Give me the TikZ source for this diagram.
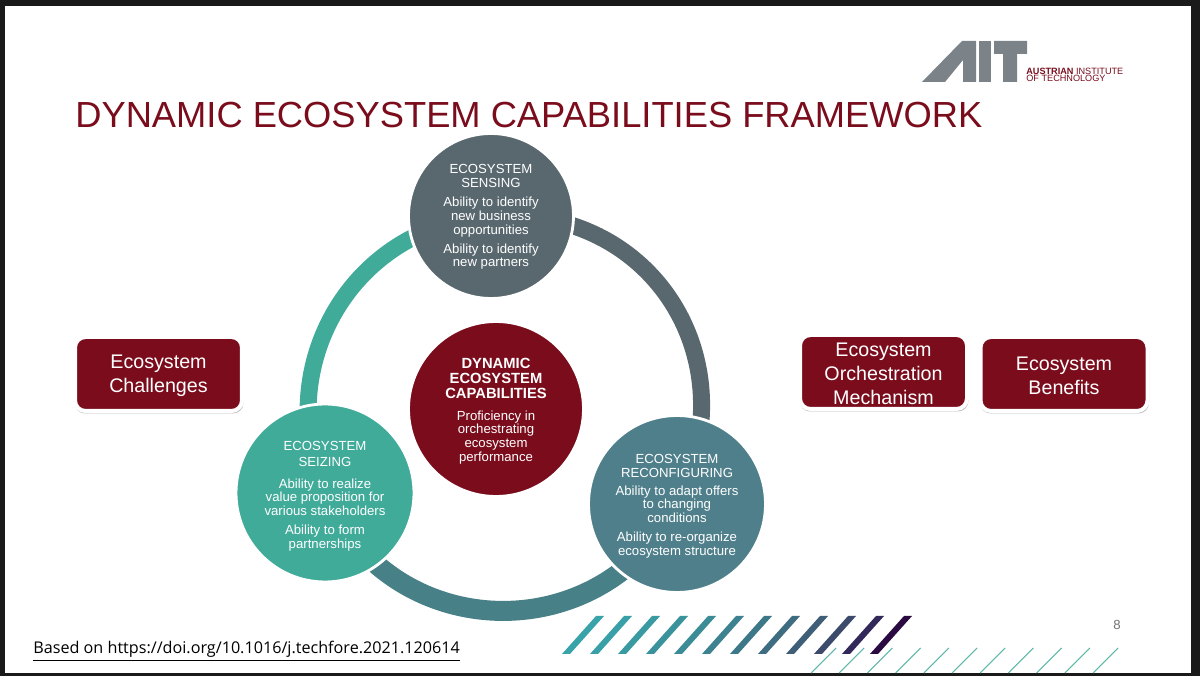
\documentclass[tikz,border=0pt]{standalone}
\usepackage{fontspec}
\setmainfont{Liberation Sans}
\newfontfamily\footfont{Open Sans}
\usetikzlibrary{shapes.geometric,backgrounds,shadows,calc}
\definecolor{wine}{HTML}{7A0C1C}
\definecolor{logogray}{HTML}{7B8288}
\definecolor{slate}{HTML}{59686F}
\definecolor{petrol}{HTML}{4F7F8B}
\definecolor{mint}{HTML}{41AB9A}
\definecolor{bottomarc}{HTML}{478086}
\definecolor{framebar}{HTML}{1A1A1A}
\def\lift#1{\rule{0pt}{#1}}
\begin{document}
\begin{tikzpicture}
[x=0.02cm,y=0.02cm,
bubble/.style={draw=white,line width=1.6pt,circle,inner sep=0pt,text=white,align=center,font=\fontsize{7.5}{7.8}\selectfont},
chip/.style={draw=white,line width=2.27pt,rounded corners=6pt,fill=wine,text=white,align=center,minimum width=3.34cm,minimum height=1.48cm,inner sep=0pt,font=\fontsize{11.2}{13.6}\selectfont,drop shadow={shadow xshift=0.1mm,shadow yshift=-0.4mm,shadow scale=1.012,fill=black!55}},
ringarc/.style={line width=0.34cm},
]
\useasboundingbox (0,0) rectangle (1200,676);

%Logo
\fill[logogray] (922,594) -- (962,635) -- (976,635) -- (976,594) -- (963,594) -- (963,616) -- (945,594) -- cycle;
\fill[logogray] (979,594) rectangle (991,635);
\fill[logogray] (994,635) -- (1027,635) -- (1027,622) -- (1017,622) -- (1017,594) -- (1003,594) -- (1003,622) -- (994,622) -- cycle;
\node (logotop) at (1026,605)[anchor=west,inner sep=0pt,text=wine,font=\fontsize{5.2}{5.2}\selectfont] {\textbf{AUSTRIAN} INSTITUTE};
\node (logobottom) at (1026,598)[anchor=west,inner sep=0pt,text=wine,font=\fontsize{5.2}{5.2}\selectfont] {OF TECHNOLOGY};

%Title
\node (title) at (75,548)[anchor=base west,inner sep=0pt,text=wine,font=\fontsize{20.66}{24}\selectfont] {DYNAMIC ECOSYSTEM CAPABILITIES FRAMEWORK};

%Circles
\node (sensing) at (491,460)[bubble,fill=slate,minimum size=3.3cm] {\lift{6.5pt}ECOSYSTEM\\SENSING\\[3pt]Ability to identify\\new business\\opportunities\\[3pt]Ability to identify\\new partners};
\node (capability) at (496,267)[bubble,fill=wine,minimum size=3.5cm] {\fontsize{8.4}{8.6}\selectfont\lift{8pt}\textbf{DYNAMIC}\\[0.8pt]\fontsize{8.4}{8.6}\selectfont\textbf{ECOSYSTEM}\\[0.8pt]\fontsize{8.4}{8.6}\selectfont\textbf{CAPABILITIES}\\[4.5pt]Proficiency in\\orchestrating\\ecosystem\\performance};
\node (seizing) at (325,183)[bubble,fill=mint,minimum size=3.56cm] {\lift{8.8pt}ECOSYSTEM\\[1.2pt]SEIZING\\[4.5pt]Ability to realize\\value proposition for\\various stakeholders\\[3pt]Ability to form\\partnerships};
\node (reconfiguring) at (677,172)[bubble,fill=petrol,minimum size=3.54cm] {\lift{7.7pt}ECOSYSTEM\\RECONFIGURING\\[2.4pt]Ability to adapt offers\\to changing\\conditions\\[3pt]Ability to re-organize\\ecosystem structure};

%Drawing the ring
\begin{scope}[on background layer]
\fill[framebar] (0,0) rectangle (1200,676);
\fill[white] (5,3) rectangle (1191,670);
\draw[ringarc,slate] (sensing.center) to[out=4,in=63,looseness=1.2] (reconfiguring.center);
\draw[ringarc,bottomarc,line width=0.4cm] (reconfiguring.center) to[out=-117,in=-67,looseness=1.2] (seizing.center);
\draw[ringarc,mint] (seizing.center) to[out=113,in=184,looseness=1.1] (sensing.center);
\end{scope}

%Boxes
\node (challenges) at (158.5,302)[chip] {\lift{10pt}Ecosystem\\Challenges};
\node (orchestration) at (883.5,304)[chip] {\lift{9.5pt}Ecosystem\\Orchestration\\Mechanism};
\node (benefits) at (1064,302)[chip] {\lift{10pt}Ecosystem\\Benefits};

%Stripes
\foreach \i/\c in {0/38A3A8,1/38A0A6,2/399AA2,3/3A939C,4/3B8C97,5/3C8290,6/3D7888,7/3E6C80,8/3F5F78,9/3C4A6C,10/33285A,11/2A0A40}
{
\definecolor{stripe}{HTML}{\c}
\fill[stripe] ({562+28*\i},22) -- ({570+28*\i},22) -- ({604+28*\i},60) -- ({596+28*\i},60) -- cycle;
}
\foreach \i in {0,...,10}
\draw[mint!85!white,line width=0.6pt] ({811+28.2*\i},3) -- ({836+28.2*\i},28);

%Page number and source
\node (pagenum) at (1117,51)[text=black!55,inner sep=0pt,font=\fontsize{7.5}{8}\selectfont] {8};
\node (source) at (33,22)[anchor=base west,inner sep=0pt,font=\footfont\fontsize{9.2}{10}\selectfont] {\underline{Based on https://doi.org/10.1016/j.techfore.2021.120614}};
\end{tikzpicture}
\end{document}
